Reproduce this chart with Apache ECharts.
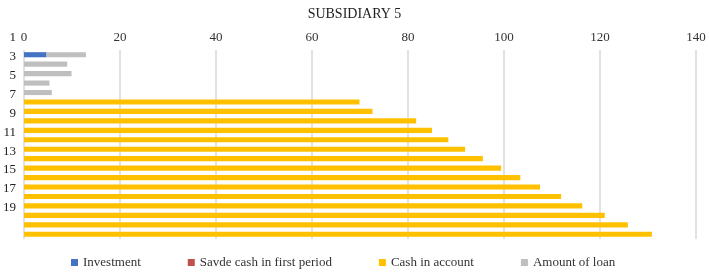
<!DOCTYPE html>
<html lang="en">
<head>
    <meta charset="UTF-8">
    <title>SUBSIDIARY 5</title>
    <script type="text/javascript" src="https://cdn.jsdelivr.net/npm/echarts@6/dist/echarts.min.js"></script>
    <style>
        html, body { margin: 0; padding: 0; background: #fff; }
        #chart { width: 709px; height: 272px; }
    </style>
</head>
<body>
    <div id="chart"></div>
<script>
    // periods 1..20
    var periods = ['1','2','3','4','5','6','7','8','9','10','11','12','13','14','15','16','17','18','19','20'];
    var investment = [4.7, null, null, null, null, null, null, null, null, null, null, null, null, null, null, null, null, null, null, null];
    var savedCash = [0, 0, 0, 0, 0, 0, 0, 0, 0, 0, 0, 0, 0, 0, 0, 0, 0, 0, 0, 0];
    var cashInAccount = [null, null, null, null, null, 69.9, 72.6, 81.7, 85.0, 88.4, 91.9, 95.6, 99.4, 103.4, 107.5, 111.9, 116.3, 121.0, 125.8, 130.8];
    var amountOfLoan = [8.2, 9.0, 9.9, 5.3, 5.8, null, null, null, null, null, null, null, null, null, null, null, null, null, null, null];

    var font = '"Liberation Serif", "DejaVu Serif", serif';

    function drawChart(){
        var chart = echarts.init(document.getElementById('chart'));
        chart.setOption({
            animation: false,
            textStyle: { fontFamily: font },
            title: {
                text: 'SUBSIDIARY 5',
                left: 'center',
                top: 2,
                textStyle: { fontFamily: font, fontSize: 14, fontWeight: 'normal', color: '#222' }
            },
            legend: {
                top: 251,
                left: 66,
                itemWidth: 7,
                itemHeight: 7,
                itemGap: 47,
                icon: 'rect',
                textStyle: { fontFamily: font, fontSize: 13, color: '#333' },
                data: ['Investment', 'Savde cash in first period', 'Cash in account', 'Amount of loan']
            },
            grid: [
                { left: 24, right: 13, top: 50, height: 189 },
                // labels of the periods sit two rows higher, as in the original
                { left: 24, right: 13, top: 33, height: 189 }
            ],
            xAxis: [{
                gridIndex: 0,
                type: 'value',
                position: 'top',
                min: 0,
                max: 140,
                interval: 20,
                axisLine: { show: false },
                axisTick: { show: false },
                axisLabel: { fontFamily: font, fontSize: 13, color: '#333', margin: 6 },
                splitLine: { lineStyle: { color: '#D9D9D9', width: 1.5 } }
            }, {
                gridIndex: 1,
                type: 'value',
                show: false
            }],
            yAxis: [{
                gridIndex: 0,
                type: 'category',
                inverse: true,
                data: periods,
                axisLine: { show: false },
                axisTick: { show: false },
                axisLabel: { show: false }
            }, {
                gridIndex: 1,
                type: 'category',
                inverse: true,
                data: periods,
                axisLine: { show: false },
                axisTick: { show: false },
                axisLabel: { interval: 1, fontFamily: font, fontSize: 13, color: '#222', margin: 13 }
            }],
            series: [{
                name: 'Investment',
                type: 'bar',
                stack: 'total',
                barCategoryGap: '46%',
                color: '#4472C4',
                data: investment
            }, {
                name: 'Savde cash in first period',
                type: 'bar',
                stack: 'total',
                barCategoryGap: '46%',
                color: '#C0504D',
                data: savedCash
            }, {
                name: 'Cash in account',
                type: 'bar',
                stack: 'total',
                barCategoryGap: '46%',
                color: '#FFC000',
                data: cashInAccount
            }, {
                name: 'Amount of loan',
                type: 'bar',
                stack: 'total',
                barCategoryGap: '46%',
                color: '#BFBFBF',
                data: amountOfLoan
            }]
        });
    }
    window.onload = function(){
        drawChart()
    }
</script>
</body>
</html>
